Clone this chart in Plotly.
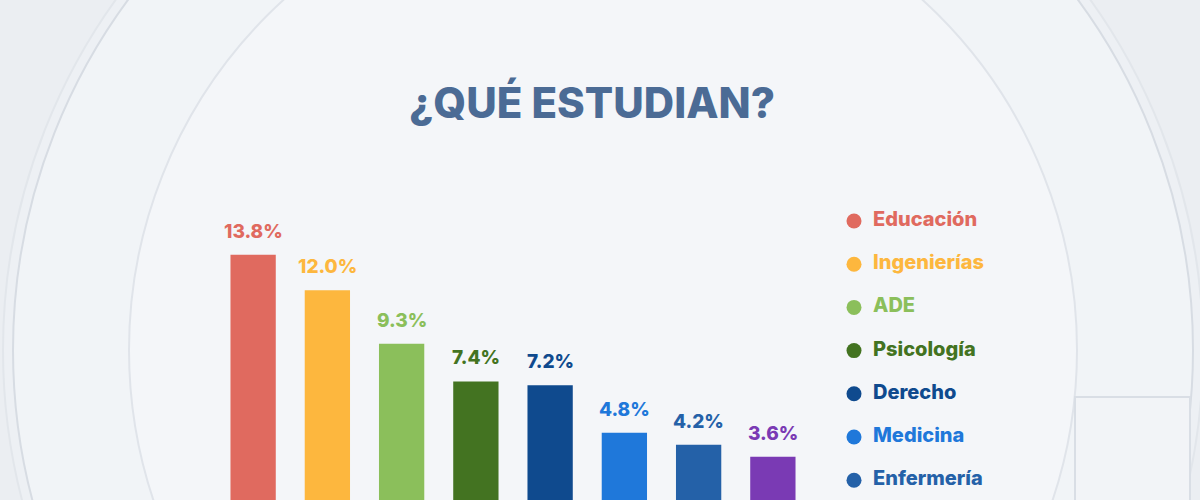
import plotly.graph_objects as go

# --- Data ---
categories = ["Educación", "Ingenierías", "ADE", "Psicología", "Derecho",
              "Medicina", "Enfermería", "Otras"]  # last one is cut off in the source
values = [13.8, 12.0, 9.3, 7.4, 7.2, 4.8, 4.2, 3.6]
value_labels = ["13.8%", "12.0%", "9.3%", "7.4%", "7.2%", "4.8%", "4.2%", "3.6%"]
colors = ["#E06A5F", "#FDB73E", "#8BBF5B", "#437321", "#0F4A8E",
          "#1F78DA", "#2461A8", "#7A3AB4"]
legend_count = 7  # the 8th entry falls below the visible frame
title = "¿QUÉ ESTUDIAN?"

W, H = 1200, 500
FONT = "Inter"
TITLE_COLOR = "#4B6B95"


def px(x, y):
    # pixel -> paper coords (margins are zero, so paper == whole canvas)
    return x / W, 1 - y / H


fig = go.Figure()

# bars (baseline sits below the visible canvas, like the source)
fig.add_trace(go.Bar(
    x=categories, y=values,
    marker=dict(color=colors, line_width=0),
    width=0.61,
    hovertemplate="%{x}: %{y}%<extra></extra>",
))

# value labels above bars
for cat, val, lab, col in zip(categories, values, value_labels, colors):
    fig.add_annotation(
        x=cat, y=val, xref="x", yref="y",
        text=lab, showarrow=False, yanchor="bottom", yshift=10,
        font=dict(family=FONT, size=19, color=col, weight=800),
    )

# custom legend on an overlay axis measured in pixels
legend_y0, legend_step = 221, 43.2
legend_y = [legend_y0 + i * legend_step for i in range(legend_count)]
fig.add_trace(go.Scatter(
    x=[854] * legend_count, y=legend_y,
    mode="markers", marker=dict(size=15, color=colors[:legend_count]),
    xaxis="x2", yaxis="y2", hoverinfo="skip", showlegend=False,
))
fig.add_trace(go.Scatter(
    x=[873] * legend_count, y=legend_y,
    mode="text", text=categories[:legend_count], textposition="middle right",
    textfont=dict(family=FONT, size=20, color=colors[:legend_count], weight=800),
    xaxis="x2", yaxis="y2", hoverinfo="skip", showlegend=False,
))

# --- background: soft concentric discs ---
shapes = []
cx, cy = 603, 350
for r, fill, line in [(600, "#EDF0F4", "#E2E6EB"), (590, "#F1F4F7", "#D7DCE3"),
                      (474, "#F4F6F9", "#E0E4EA")]:
    x0, y0 = px(cx - r, cy - r)
    x1, y1 = px(cx + r, cy + r)
    shapes.append(dict(type="circle", xref="paper", yref="paper",
                       x0=x0, y0=y1, x1=x1, y1=y0, layer="below",
                       fillcolor=fill, line=dict(color=line, width=2)))
rx0, ry0 = px(1075, 397)
rx1, ry1 = px(1190, 505)
shapes.append(dict(type="rect", xref="paper", yref="paper",
                   x0=rx0, y0=ry1, x1=rx1, y1=ry0, layer="below",
                   fillcolor="#F2F4F7", line=dict(color="#D9DEE5", width=2)))

fig.update_layout(
    width=W, height=H,
    margin=dict(l=0, r=0, t=0, b=0),
    paper_bgcolor="#EBEEF2",
    plot_bgcolor="rgba(0,0,0,0)",
    showlegend=False,
    shapes=shapes,
    title=dict(text=title, x=592 / W, xanchor="center", y=1 - 103 / H,
               yanchor="middle", yref="container",
               font=dict(family=FONT, size=42, color=TITLE_COLOR, weight=800)),
    xaxis=dict(domain=[216 / W, 810 / W], range=[-0.5, 7.5],
               visible=False, fixedrange=True),
    yaxis=dict(domain=[0, 0.6], range=[1.41, 16.56],
               visible=False, fixedrange=True),
    xaxis2=dict(domain=[0, 1], range=[0, W], anchor="y2",
                visible=False, fixedrange=True),
    yaxis2=dict(domain=[0, 1], range=[H, 0], anchor="x2",
                visible=False, fixedrange=True),
)

# drop the browser's default 8px body margin so the chart fills the window
fig.write_html("out.html", config={"displayModeBar": False},
               post_script="document.body.style.margin='0';")
